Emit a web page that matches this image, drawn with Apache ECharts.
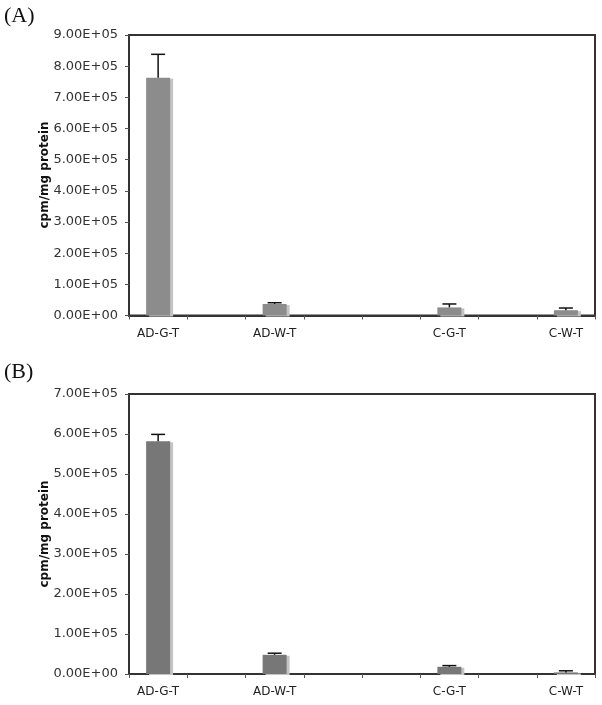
<!DOCTYPE html>
<html>
<head>
<meta charset="utf-8">
<script src="https://cdn.jsdelivr.net/npm/echarts@6/dist/echarts.min.js"></script>
<style>html,body{margin:0;padding:0;background:#fff}#c{width:602px;height:705px}</style>
</head>
<body>
<div id="c"></div>
<script>
const categories = ['AD-G-T', '', 'AD-W-T', '', '', 'C-G-T', '', 'C-W-T'];
const valuesA = [763000, null, 37000, null, null, 26000, null, 17000];
const errTopA = [838000, null, 41000, null, null, 37000, null, 24000];
const valuesB = [582000, null, 48000, null, null, 18000, null, 4000];
const errTopB = [599000, null, 52000, null, null, 21000, null, 8000];
const panelLabels = ['(A)', '(B)'];
const yNames = ['cpm/mg protein', 'cpm/mg protein'];
const yMax = [900000, 700000];

const chart = echarts.init(document.getElementById('c'), null, {renderer: 'canvas'});
const fontSans = 'DejaVu Sans';

function fmt(v) {
  return v === 0 ? '0.00E+00' : (v / 100000).toFixed(2) + 'E+05';
}

function xAxis(gi) {
  return {
    type: 'category', gridIndex: gi, data: categories,
    axisLine: {lineStyle: {color: '#333', width: 2}},
    axisTick: {show: true, length: 4, lineStyle: {color: '#555'}, interval: 0},
    axisLabel: {interval: 0, color: '#222', fontFamily: fontSans, fontSize: 12, margin: 12},
    splitLine: {show: false}
  };
}
function yAxis(gi) {
  return {
    type: 'value', gridIndex: gi, min: 0, max: yMax[gi], interval: 100000,
    axisLine: {show: true, lineStyle: {color: '#333', width: 2}},
    axisTick: {show: true, length: 4, lineStyle: {color: '#555'}},
    axisLabel: {color: '#333', fontFamily: fontSans, fontSize: 13, margin: 11, formatter: fmt},
    splitLine: {show: false}
  };
}
function errSeries(gi, tops, vals) {
  const data = [];
  tops.forEach((t, i) => { if (t != null) data.push([i, vals[i], t]); });
  return {
    type: 'custom', xAxisIndex: gi, yAxisIndex: gi, z: 5,
    data: data,
    encode: {x: 0, y: [1, 2]},
    renderItem: function (params, api) {
      const p0 = api.coord([api.value(0), api.value(1)]);
      const p1 = api.coord([api.value(0), api.value(2)]);
      const hw = 7;
      return {
        type: 'group',
        children: [
          {type: 'line', shape: {x1: p0[0], y1: p0[1], x2: p1[0], y2: p1[1]}, style: {stroke: '#111', lineWidth: 1.5}},
          {type: 'line', shape: {x1: p1[0] - hw, y1: p1[1], x2: p1[0] + hw, y2: p1[1]}, style: {stroke: '#111', lineWidth: 1.5}}
        ]
      };
    }
  };
}
function barSeries(gi, vals, color) {
  return {
    type: 'bar', xAxisIndex: gi, yAxisIndex: gi, data: vals, barWidth: 24,
    itemStyle: {color: color, shadowColor: '#c4c4c4', shadowBlur: 0, shadowOffsetX: 3, shadowOffsetY: 1}
  };
}
function nameText(text, cy) {
  return {
    type: 'text', x: 45, y: cy, rotation: Math.PI / 2,
    style: {text: text, font: 'bold 12px "DejaVu Sans"', fill: '#111', align: 'center', verticalAlign: 'middle'}
  };
}

chart.setOption({
  animation: false,
  grid: [
    {left: 129, top: 35, width: 466, height: 280.5, show: true, borderColor: '#333', borderWidth: 2, backgroundColor: 'transparent'},
    {left: 129, top: 394, width: 466, height: 280, show: true, borderColor: '#333', borderWidth: 2, backgroundColor: 'transparent'}
  ],
  xAxis: [xAxis(0), xAxis(1)],
  yAxis: [yAxis(0), yAxis(1)],
  series: [
    barSeries(0, valuesA, '#8c8c8c'),
    errSeries(0, errTopA, valuesA),
    barSeries(1, valuesB, '#777777'),
    errSeries(1, errTopB, valuesB)
  ],
  graphic: [
    {type: 'text', left: 4, top: 5, style: {text: panelLabels[0], font: '22px "Liberation Serif"', fill: '#111'}},
    {type: 'text', left: 4, top: 361, style: {text: panelLabels[1], font: '22px "Liberation Serif"', fill: '#111'}},
    nameText(yNames[0], 175),
    nameText(yNames[1], 534)
  ]
});
</script>
</body>
</html>
